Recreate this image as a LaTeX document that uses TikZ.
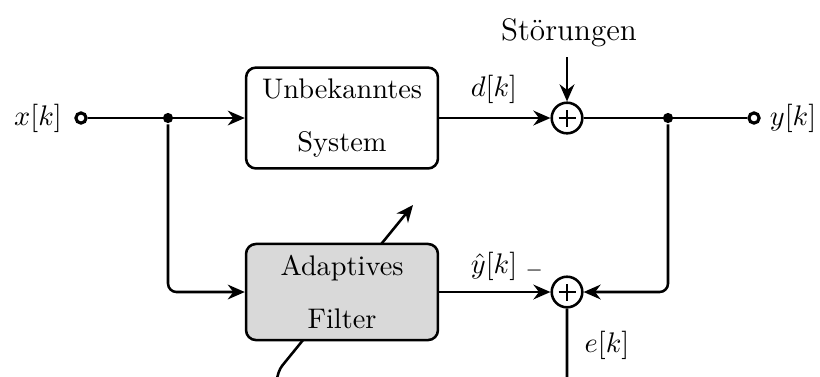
\documentclass[tikz,border=0pt]{standalone}
\usetikzlibrary{arrows.meta,backgrounds}
\begin{document}
\begin{tikzpicture}[x=0.3528pt,y=-0.3528pt,line width=0.9pt,
  >={Stealth[length=6pt,width=5.2pt]},
  wire/.style={line width=0.9pt},
  blockbox/.style={draw,rounded corners=3.5pt,minimum width=67.7pt,align=center,inner sep=2pt},
  sumnode/.style={draw,circle,minimum size=10.8pt,inner sep=0pt,
    path picture={\draw[line width=0.7pt] ([xshift=-3pt]path picture bounding box.center) -- ([xshift=3pt]path picture bounding box.center)
      ([yshift=-3pt]path picture bounding box.center) -- ([yshift=3pt]path picture bounding box.center);}},
  term/.style={draw,circle,fill=white,minimum size=3.6pt,inner sep=0pt,line width=1.1pt},
  branch/.style={circle,fill=black,minimum size=3.6pt,inner sep=0pt},
  lbl/.style={inner sep=0pt}]
\clip (0,0) rectangle (820,376);
% nodes
\node[blockbox,minimum height=35.6pt] (sys) at (342,118) {Unbekanntes\\[7pt]System};
\node[blockbox,minimum height=33.9pt,fill=gray!30] (flt) at (342,292) {Adaptives\\[7pt]Filter};
\node[sumnode] (s1) at (567,118) {};
\node[sumnode] (s2) at (567,292) {};
\node[term] (xin) at (81,118) {};
\node[term] (yout) at (754,118) {};
\node[branch] (b1) at (168,118) {};
\node[branch] (b2) at (668,118) {};
\node[lbl] (xl) at (38,118) {$x[k]$};
\node[lbl] (yl) at (793,118) {$y[k]$};
\node[lbl,font=\fontsize{11}{13}\selectfont] (stl) at (569,33) {St\"orungen};
\node[lbl] (dl) at (494,89) {$d[k]$};
\node[lbl] (yhl) at (494,266) {$\hat{y}[k]$};
\node[lbl] (ml) at (535,271) {$_-$};
\node[lbl] (el) at (607,345) {$e[k]$};
\coordinate (stin) at (567,57);
\coordinate (eb) at (567,395);
\coordinate (lb) at (277,395);
\coordinate (lc) at (277,372);
\coordinate (adapt) at (413,205);
% connectors
\draw[wire,->] (xin) -- (sys.west);
\draw[wire,->] (sys) -- (s1);
\draw[wire,->] (stin) -- (s1);
\draw[wire] (s1) -- (yout);
\draw[wire,->,rounded corners=3pt] (b1) |- (flt.west);
\draw[wire,->,rounded corners=3pt] (b2) |- (s2);
\draw[wire,->] (flt) -- (s2);
\begin{scope}[on background layer]
\draw[wire,->,rounded corners=3pt] (s2) -- (eb) -- (lb) -- (lc) -- (adapt);
\end{scope}
\end{tikzpicture}
\end{document}
